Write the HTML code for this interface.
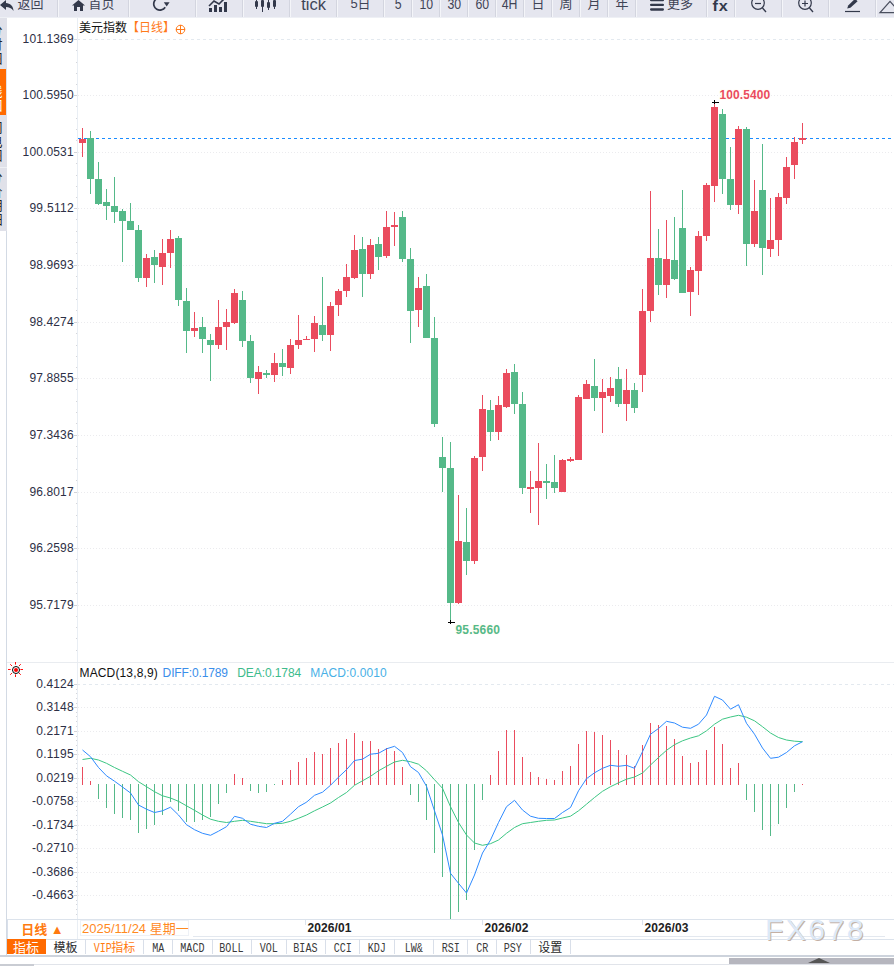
<!DOCTYPE html>
<html lang="zh"><head><meta charset="utf-8"><title>美元指数 日线</title>
<style>
html,body{margin:0;padding:0;}
body{width:894px;height:966px;overflow:hidden;background:#fff;position:relative;font-family:"Liberation Sans","Noto Sans CJK SC",sans-serif;}
.chart{position:absolute;left:0;top:0;}
.toolbar{position:absolute;left:0;top:0;width:894px;height:17px;background:#E5E6EF;overflow:hidden;border-bottom:1px solid #EEF0F5;}
.tbtn{position:absolute;top:0px;height:17px;box-sizing:border-box;border-left:1px solid #F4F5F9;border-right:1px solid #D3D5DF;display:flex;align-items:flex-start;justify-content:center;color:#3F4456;font-size:13px;line-height:14px;white-space:nowrap;}
.tbtn .ic{display:inline-block;margin-right:3px;height:13px;position:relative;top:0px}
.tbtn .ic svg{display:block;overflow:visible}
.tbtn .tx{display:inline-block;position:relative;top:-3px;font-size:13px;transform:translateY(0.4px)}
.tbtn .tx.num{font-size:15px;transform:translateY(0.4px) scaleX(.82);top:-3px}
.tbtn .tx.fx{font-size:15px;font-weight:bold;top:-1px;letter-spacing:1px;color:#33394B;transform:translateY(0.3px) scaleX(1.08)}
.tbtn .tx.tick{font-size:16.5px;top:-4px;transform:translateY(0.5px)}
.side{position:absolute;left:0;top:18px;width:7px;height:213px;background:#E0E1E9;overflow:hidden}
.side .or{position:absolute;left:0;top:51px;width:6px;height:46px;background:#FF6A00}
.side .sp{position:absolute;left:0;top:149px;width:7px;height:1px;background:#EEF0F4}
.side span{position:absolute;left:-10.5px;font-size:13px;line-height:14px;color:#222;width:13px;height:14px;overflow:visible}
.side span.w{color:#fff}
.sline{position:absolute;left:6px;top:231px;width:1px;height:724px;background:#D3DAE4}
.title{position:absolute;left:79px;top:20px;font-size:12px;line-height:16px;color:#111;white-space:nowrap}
.title b{font-weight:normal;color:#FF7A1A}
.period{position:absolute;left:7px;top:920px;width:70px;height:19px;box-sizing:border-box;border-left:1px solid #D8DFEA;color:#FF7A0F;font-weight:bold;font-size:13px;line-height:19px;text-align:center}
.date{position:absolute;left:80px;top:920px;width:109px;height:16px;box-sizing:border-box;border:1px solid #EEF1F6;color:#FF8A1F;font-size:13px;line-height:15px;padding-left:1px;white-space:nowrap}
.tabs{position:absolute;left:0;top:939px;width:894px;height:15px;}
.tab{position:absolute;top:0;height:15px;box-sizing:content-box;border-right:1px solid #D9DFE9;font-size:12px;line-height:18px;text-align:center;color:#2A2A2A;white-space:nowrap;overflow:hidden}
.tab.on{background:#FF6A00;color:#fff;font-size:13px;border-right-color:#FF6A00}
.tab.vip{color:#FF7A0F}
.mono{display:inline-block;font-family:"Liberation Mono",monospace;font-size:12px;transform:scaleX(.84);transform-origin:center;margin:0 -2px;vertical-align:top;color:#3A3A3A;position:relative;top:0.5px}
.tab.vip .mono{margin:0 -2px 0 -2px;color:#FF7A0F}
.bl1{position:absolute;left:0;top:955px;width:894px;height:1.5px;background:#CDD3DC}
.bl2{position:absolute;left:193px;top:936px;width:692px;height:1px;background:#E3E8EF}
.bl3{position:absolute;left:7px;top:939px;width:887px;height:1px;background:#DCE3EC}
.sb{position:absolute;left:729px;top:958px;width:165px;height:6px;background:#B6B6BE}
.sb i{position:absolute;left:79px;top:0;width:0;height:0;border-left:11px solid transparent;border-right:11px solid transparent;border-bottom:5px solid #555}
.bb{position:absolute;left:0;top:964px;width:34px;height:2px;background:#C9CCD3}
.bb2{position:absolute;left:34px;top:964px;width:860px;height:1px;background:#E1E4EA}
.wm{position:absolute;left:765px;top:913px;font-size:30px;line-height:34px;letter-spacing:2.5px;color:#DCE9F8;text-shadow:1px 1px 0 #C4B0A4;white-space:nowrap}
.sun{position:absolute;left:8px;top:662px}
</style></head><body>
<svg class="chart" width="894" height="966" viewBox="0 0 894 966"><g shape-rendering="crispEdges">
<line x1="77" x2="894" y1="39.5" y2="39.5" stroke="#E3E9EF" stroke-dasharray="3 3"/>
<line x1="78" x2="894" y1="95.5" y2="95.5" stroke="#EBEBEE" stroke-dasharray="1 2"/>
<line x1="78" x2="894" y1="152.5" y2="152.5" stroke="#EBEBEE" stroke-dasharray="1 2"/>
<line x1="78" x2="894" y1="208.5" y2="208.5" stroke="#EBEBEE" stroke-dasharray="1 2"/>
<line x1="78" x2="894" y1="265.5" y2="265.5" stroke="#EBEBEE" stroke-dasharray="1 2"/>
<line x1="78" x2="894" y1="322.5" y2="322.5" stroke="#EBEBEE" stroke-dasharray="1 2"/>
<line x1="78" x2="894" y1="378.5" y2="378.5" stroke="#EBEBEE" stroke-dasharray="1 2"/>
<line x1="78" x2="894" y1="435.5" y2="435.5" stroke="#EBEBEE" stroke-dasharray="1 2"/>
<line x1="78" x2="894" y1="492.5" y2="492.5" stroke="#EBEBEE" stroke-dasharray="1 2"/>
<line x1="78" x2="894" y1="548.5" y2="548.5" stroke="#EBEBEE" stroke-dasharray="1 2"/>
<line x1="78" x2="894" y1="605.5" y2="605.5" stroke="#EBEBEE" stroke-dasharray="1 2"/>
<line x1="77.5" x2="77.5" y1="18" y2="939" stroke="#E9EEF4"/>
<line x1="74" x2="77" y1="39.5" y2="39.5" stroke="#D3D3D8"/>
<rect x="76" y="50" width="1" height="1" fill="#D6D6DA"/>
<rect x="76" y="62" width="1" height="1" fill="#D6D6DA"/>
<rect x="76" y="73" width="1" height="1" fill="#D6D6DA"/>
<rect x="76" y="84" width="1" height="1" fill="#D6D6DA"/>
<line x1="74" x2="77" y1="95.5" y2="95.5" stroke="#D3D3D8"/>
<rect x="76" y="106" width="1" height="1" fill="#D6D6DA"/>
<rect x="76" y="118" width="1" height="1" fill="#D6D6DA"/>
<rect x="76" y="129" width="1" height="1" fill="#D6D6DA"/>
<rect x="76" y="140" width="1" height="1" fill="#D6D6DA"/>
<line x1="74" x2="77" y1="152.5" y2="152.5" stroke="#D3D3D8"/>
<rect x="76" y="163" width="1" height="1" fill="#D6D6DA"/>
<rect x="76" y="175" width="1" height="1" fill="#D6D6DA"/>
<rect x="76" y="186" width="1" height="1" fill="#D6D6DA"/>
<rect x="76" y="197" width="1" height="1" fill="#D6D6DA"/>
<line x1="74" x2="77" y1="208.5" y2="208.5" stroke="#D3D3D8"/>
<rect x="76" y="219" width="1" height="1" fill="#D6D6DA"/>
<rect x="76" y="231" width="1" height="1" fill="#D6D6DA"/>
<rect x="76" y="242" width="1" height="1" fill="#D6D6DA"/>
<rect x="76" y="253" width="1" height="1" fill="#D6D6DA"/>
<line x1="74" x2="77" y1="265.5" y2="265.5" stroke="#D3D3D8"/>
<rect x="76" y="276" width="1" height="1" fill="#D6D6DA"/>
<rect x="76" y="288" width="1" height="1" fill="#D6D6DA"/>
<rect x="76" y="299" width="1" height="1" fill="#D6D6DA"/>
<rect x="76" y="310" width="1" height="1" fill="#D6D6DA"/>
<line x1="74" x2="77" y1="322.5" y2="322.5" stroke="#D3D3D8"/>
<rect x="76" y="333" width="1" height="1" fill="#D6D6DA"/>
<rect x="76" y="345" width="1" height="1" fill="#D6D6DA"/>
<rect x="76" y="356" width="1" height="1" fill="#D6D6DA"/>
<rect x="76" y="367" width="1" height="1" fill="#D6D6DA"/>
<line x1="74" x2="77" y1="378.5" y2="378.5" stroke="#D3D3D8"/>
<rect x="76" y="389" width="1" height="1" fill="#D6D6DA"/>
<rect x="76" y="401" width="1" height="1" fill="#D6D6DA"/>
<rect x="76" y="412" width="1" height="1" fill="#D6D6DA"/>
<rect x="76" y="423" width="1" height="1" fill="#D6D6DA"/>
<line x1="74" x2="77" y1="435.5" y2="435.5" stroke="#D3D3D8"/>
<rect x="76" y="446" width="1" height="1" fill="#D6D6DA"/>
<rect x="76" y="458" width="1" height="1" fill="#D6D6DA"/>
<rect x="76" y="469" width="1" height="1" fill="#D6D6DA"/>
<rect x="76" y="480" width="1" height="1" fill="#D6D6DA"/>
<line x1="74" x2="77" y1="492.5" y2="492.5" stroke="#D3D3D8"/>
<rect x="76" y="503" width="1" height="1" fill="#D6D6DA"/>
<rect x="76" y="515" width="1" height="1" fill="#D6D6DA"/>
<rect x="76" y="526" width="1" height="1" fill="#D6D6DA"/>
<rect x="76" y="537" width="1" height="1" fill="#D6D6DA"/>
<line x1="74" x2="77" y1="548.5" y2="548.5" stroke="#D3D3D8"/>
<rect x="76" y="559" width="1" height="1" fill="#D6D6DA"/>
<rect x="76" y="571" width="1" height="1" fill="#D6D6DA"/>
<rect x="76" y="582" width="1" height="1" fill="#D6D6DA"/>
<rect x="76" y="593" width="1" height="1" fill="#D6D6DA"/>
<line x1="74" x2="77" y1="605.5" y2="605.5" stroke="#D3D3D8"/>
<line x1="77" x2="894" y1="684.5" y2="684.5" stroke="#E3E9EF" stroke-dasharray="3 3"/>
<line x1="78" x2="894" y1="707.5" y2="707.5" stroke="#EBEBEE" stroke-dasharray="1 2"/>
<line x1="78" x2="894" y1="731.5" y2="731.5" stroke="#EBEBEE" stroke-dasharray="1 2"/>
<line x1="78" x2="894" y1="754.5" y2="754.5" stroke="#EBEBEE" stroke-dasharray="1 2"/>
<line x1="78" x2="894" y1="778.5" y2="778.5" stroke="#EBEBEE" stroke-dasharray="1 2"/>
<line x1="78" x2="894" y1="801.5" y2="801.5" stroke="#EBEBEE" stroke-dasharray="1 2"/>
<line x1="78" x2="894" y1="825.5" y2="825.5" stroke="#EBEBEE" stroke-dasharray="1 2"/>
<line x1="78" x2="894" y1="848.5" y2="848.5" stroke="#EBEBEE" stroke-dasharray="1 2"/>
<line x1="78" x2="894" y1="872.5" y2="872.5" stroke="#EBEBEE" stroke-dasharray="1 2"/>
<line x1="78" x2="894" y1="895.5" y2="895.5" stroke="#EBEBEE" stroke-dasharray="1 2"/>
<line x1="74" x2="77" y1="684.5" y2="684.5" stroke="#D3D3D8"/>
<rect x="76" y="689" width="1" height="1" fill="#D6D6DA"/>
<rect x="76" y="693" width="1" height="1" fill="#D6D6DA"/>
<rect x="76" y="698" width="1" height="1" fill="#D6D6DA"/>
<rect x="76" y="703" width="1" height="1" fill="#D6D6DA"/>
<line x1="74" x2="77" y1="707.5" y2="707.5" stroke="#D3D3D8"/>
<rect x="76" y="712" width="1" height="1" fill="#D6D6DA"/>
<rect x="76" y="716" width="1" height="1" fill="#D6D6DA"/>
<rect x="76" y="721" width="1" height="1" fill="#D6D6DA"/>
<rect x="76" y="726" width="1" height="1" fill="#D6D6DA"/>
<line x1="74" x2="77" y1="731.5" y2="731.5" stroke="#D3D3D8"/>
<rect x="76" y="736" width="1" height="1" fill="#D6D6DA"/>
<rect x="76" y="740" width="1" height="1" fill="#D6D6DA"/>
<rect x="76" y="745" width="1" height="1" fill="#D6D6DA"/>
<rect x="76" y="750" width="1" height="1" fill="#D6D6DA"/>
<line x1="74" x2="77" y1="754.5" y2="754.5" stroke="#D3D3D8"/>
<rect x="76" y="759" width="1" height="1" fill="#D6D6DA"/>
<rect x="76" y="763" width="1" height="1" fill="#D6D6DA"/>
<rect x="76" y="768" width="1" height="1" fill="#D6D6DA"/>
<rect x="76" y="773" width="1" height="1" fill="#D6D6DA"/>
<line x1="74" x2="77" y1="778.5" y2="778.5" stroke="#D3D3D8"/>
<rect x="76" y="783" width="1" height="1" fill="#D6D6DA"/>
<rect x="76" y="787" width="1" height="1" fill="#D6D6DA"/>
<rect x="76" y="792" width="1" height="1" fill="#D6D6DA"/>
<rect x="76" y="797" width="1" height="1" fill="#D6D6DA"/>
<line x1="74" x2="77" y1="801.5" y2="801.5" stroke="#D3D3D8"/>
<rect x="76" y="806" width="1" height="1" fill="#D6D6DA"/>
<rect x="76" y="810" width="1" height="1" fill="#D6D6DA"/>
<rect x="76" y="815" width="1" height="1" fill="#D6D6DA"/>
<rect x="76" y="820" width="1" height="1" fill="#D6D6DA"/>
<line x1="74" x2="77" y1="825.5" y2="825.5" stroke="#D3D3D8"/>
<rect x="76" y="830" width="1" height="1" fill="#D6D6DA"/>
<rect x="76" y="834" width="1" height="1" fill="#D6D6DA"/>
<rect x="76" y="839" width="1" height="1" fill="#D6D6DA"/>
<rect x="76" y="844" width="1" height="1" fill="#D6D6DA"/>
<line x1="74" x2="77" y1="848.5" y2="848.5" stroke="#D3D3D8"/>
<rect x="76" y="853" width="1" height="1" fill="#D6D6DA"/>
<rect x="76" y="857" width="1" height="1" fill="#D6D6DA"/>
<rect x="76" y="862" width="1" height="1" fill="#D6D6DA"/>
<rect x="76" y="867" width="1" height="1" fill="#D6D6DA"/>
<line x1="74" x2="77" y1="872.5" y2="872.5" stroke="#D3D3D8"/>
<rect x="76" y="877" width="1" height="1" fill="#D6D6DA"/>
<rect x="76" y="881" width="1" height="1" fill="#D6D6DA"/>
<rect x="76" y="886" width="1" height="1" fill="#D6D6DA"/>
<rect x="76" y="891" width="1" height="1" fill="#D6D6DA"/>
<line x1="74" x2="77" y1="895.5" y2="895.5" stroke="#D3D3D8"/>
<rect x="76" y="900" width="1" height="1" fill="#D6D6DA"/>
<rect x="76" y="904" width="1" height="1" fill="#D6D6DA"/>
<rect x="76" y="909" width="1" height="1" fill="#D6D6DA"/>
<rect x="76" y="914" width="1" height="1" fill="#D6D6DA"/>
<line x1="7" x2="894" y1="662.5" y2="662.5" stroke="#E9ECF0"/>
<rect x="76" y="616" width="1" height="1" fill="#D6D6DA"/>
<rect x="76" y="627" width="1" height="1" fill="#D6D6DA"/>
<rect x="76" y="638" width="1" height="1" fill="#D6D6DA"/>
<rect x="76" y="650" width="1" height="1" fill="#D6D6DA"/>
<line x1="7" x2="894" y1="919.5" y2="919.5" stroke="#DCE3EC"/>
<line x1="78" x2="894" y1="138.5" y2="138.5" stroke="#1A8CFF" stroke-dasharray="3 3"/>
<rect x="82" y="128" width="1" height="29" fill="#EA4C5E"/>
<rect x="79" y="139" width="7" height="4" fill="#EA4C5E"/>
<rect x="90" y="131" width="1" height="63" fill="#55B989"/>
<rect x="87" y="138" width="7" height="41" fill="#55B989"/>
<rect x="98" y="162" width="1" height="43" fill="#55B989"/>
<rect x="95" y="179" width="7" height="25" fill="#55B989"/>
<rect x="106" y="189" width="1" height="31" fill="#55B989"/>
<rect x="103" y="202" width="7" height="4" fill="#55B989"/>
<rect x="114" y="177" width="1" height="46" fill="#55B989"/>
<rect x="111" y="206" width="7" height="6" fill="#55B989"/>
<rect x="122" y="209" width="1" height="53" fill="#55B989"/>
<rect x="119" y="211" width="7" height="10" fill="#55B989"/>
<rect x="130" y="203" width="1" height="27" fill="#55B989"/>
<rect x="127" y="221" width="7" height="9" fill="#55B989"/>
<rect x="138" y="225" width="1" height="57" fill="#55B989"/>
<rect x="135" y="230" width="7" height="48" fill="#55B989"/>
<rect x="146" y="254" width="1" height="33" fill="#EA4C5E"/>
<rect x="143" y="258" width="7" height="20" fill="#EA4C5E"/>
<rect x="154" y="250" width="1" height="33" fill="#55B989"/>
<rect x="151" y="257" width="7" height="8" fill="#55B989"/>
<rect x="162" y="239" width="1" height="46" fill="#EA4C5E"/>
<rect x="159" y="253" width="7" height="14" fill="#EA4C5E"/>
<rect x="170" y="230" width="1" height="38" fill="#EA4C5E"/>
<rect x="167" y="239" width="7" height="14" fill="#EA4C5E"/>
<rect x="178" y="236" width="1" height="70" fill="#55B989"/>
<rect x="175" y="238" width="7" height="62" fill="#55B989"/>
<rect x="186" y="288" width="1" height="65" fill="#55B989"/>
<rect x="183" y="301" width="7" height="30" fill="#55B989"/>
<rect x="194" y="312" width="1" height="25" fill="#EA4C5E"/>
<rect x="191" y="328" width="7" height="3" fill="#EA4C5E"/>
<rect x="202" y="317" width="1" height="36" fill="#55B989"/>
<rect x="199" y="327" width="7" height="12" fill="#55B989"/>
<rect x="210" y="334" width="1" height="47" fill="#55B989"/>
<rect x="207" y="340" width="7" height="5" fill="#55B989"/>
<rect x="218" y="300" width="1" height="49" fill="#EA4C5E"/>
<rect x="215" y="327" width="7" height="18" fill="#EA4C5E"/>
<rect x="226" y="309" width="1" height="41" fill="#EA4C5E"/>
<rect x="223" y="322" width="7" height="5" fill="#EA4C5E"/>
<rect x="234" y="289" width="1" height="35" fill="#EA4C5E"/>
<rect x="231" y="293" width="7" height="30" fill="#EA4C5E"/>
<rect x="242" y="291" width="1" height="56" fill="#55B989"/>
<rect x="239" y="300" width="7" height="41" fill="#55B989"/>
<rect x="250" y="335" width="1" height="48" fill="#55B989"/>
<rect x="247" y="341" width="7" height="37" fill="#55B989"/>
<rect x="258" y="366" width="1" height="28" fill="#EA4C5E"/>
<rect x="255" y="372" width="7" height="7" fill="#EA4C5E"/>
<rect x="266" y="370" width="1" height="8" fill="#55B989"/>
<rect x="263" y="373" width="7" height="2" fill="#55B989"/>
<rect x="274" y="353" width="1" height="29" fill="#EA4C5E"/>
<rect x="271" y="363" width="7" height="12" fill="#EA4C5E"/>
<rect x="282" y="349" width="1" height="27" fill="#55B989"/>
<rect x="279" y="363" width="7" height="4" fill="#55B989"/>
<rect x="290" y="339" width="1" height="35" fill="#EA4C5E"/>
<rect x="287" y="345" width="7" height="23" fill="#EA4C5E"/>
<rect x="298" y="315" width="1" height="34" fill="#EA4C5E"/>
<rect x="295" y="340" width="7" height="5" fill="#EA4C5E"/>
<rect x="306" y="336" width="1" height="4" fill="#EA4C5E"/>
<rect x="303" y="339" width="7" height="1" fill="#EA4C5E"/>
<rect x="314" y="316" width="1" height="36" fill="#EA4C5E"/>
<rect x="311" y="323" width="7" height="16" fill="#EA4C5E"/>
<rect x="322" y="277" width="1" height="64" fill="#55B989"/>
<rect x="319" y="325" width="7" height="10" fill="#55B989"/>
<rect x="330" y="302" width="1" height="49" fill="#EA4C5E"/>
<rect x="327" y="306" width="7" height="29" fill="#EA4C5E"/>
<rect x="338" y="289" width="1" height="27" fill="#EA4C5E"/>
<rect x="335" y="291" width="7" height="14" fill="#EA4C5E"/>
<rect x="346" y="264" width="1" height="33" fill="#EA4C5E"/>
<rect x="343" y="277" width="7" height="14" fill="#EA4C5E"/>
<rect x="354" y="235" width="1" height="44" fill="#EA4C5E"/>
<rect x="351" y="250" width="7" height="28" fill="#EA4C5E"/>
<rect x="362" y="237" width="1" height="60" fill="#55B989"/>
<rect x="359" y="249" width="7" height="25" fill="#55B989"/>
<rect x="370" y="239" width="1" height="40" fill="#EA4C5E"/>
<rect x="367" y="245" width="7" height="29" fill="#EA4C5E"/>
<rect x="378" y="237" width="1" height="33" fill="#55B989"/>
<rect x="375" y="244" width="7" height="13" fill="#55B989"/>
<rect x="386" y="211" width="1" height="47" fill="#EA4C5E"/>
<rect x="383" y="227" width="7" height="29" fill="#EA4C5E"/>
<rect x="394" y="212" width="1" height="34" fill="#EA4C5E"/>
<rect x="391" y="225" width="7" height="2" fill="#EA4C5E"/>
<rect x="402" y="211" width="1" height="51" fill="#55B989"/>
<rect x="399" y="217" width="7" height="42" fill="#55B989"/>
<rect x="410" y="248" width="1" height="95" fill="#55B989"/>
<rect x="407" y="259" width="7" height="52" fill="#55B989"/>
<rect x="418" y="277" width="1" height="50" fill="#EA4C5E"/>
<rect x="415" y="288" width="7" height="22" fill="#EA4C5E"/>
<rect x="426" y="274" width="1" height="64" fill="#55B989"/>
<rect x="423" y="286" width="7" height="52" fill="#55B989"/>
<rect x="434" y="317" width="1" height="110" fill="#55B989"/>
<rect x="431" y="338" width="7" height="86" fill="#55B989"/>
<rect x="442" y="437" width="1" height="55" fill="#55B989"/>
<rect x="439" y="457" width="7" height="11" fill="#55B989"/>
<rect x="450" y="442" width="1" height="180" fill="#55B989"/>
<rect x="447" y="468" width="7" height="135" fill="#55B989"/>
<rect x="458" y="495" width="1" height="109" fill="#EA4C5E"/>
<rect x="455" y="541" width="7" height="62" fill="#EA4C5E"/>
<rect x="466" y="508" width="1" height="67" fill="#55B989"/>
<rect x="463" y="542" width="7" height="19" fill="#55B989"/>
<rect x="474" y="456" width="1" height="108" fill="#EA4C5E"/>
<rect x="471" y="458" width="7" height="103" fill="#EA4C5E"/>
<rect x="482" y="395" width="1" height="76" fill="#EA4C5E"/>
<rect x="479" y="409" width="7" height="48" fill="#EA4C5E"/>
<rect x="490" y="400" width="1" height="41" fill="#55B989"/>
<rect x="487" y="410" width="7" height="22" fill="#55B989"/>
<rect x="498" y="396" width="1" height="44" fill="#EA4C5E"/>
<rect x="495" y="405" width="7" height="27" fill="#EA4C5E"/>
<rect x="506" y="369" width="1" height="39" fill="#EA4C5E"/>
<rect x="503" y="373" width="7" height="34" fill="#EA4C5E"/>
<rect x="514" y="364" width="1" height="50" fill="#55B989"/>
<rect x="511" y="372" width="7" height="32" fill="#55B989"/>
<rect x="522" y="392" width="1" height="102" fill="#55B989"/>
<rect x="519" y="404" width="7" height="84" fill="#55B989"/>
<rect x="530" y="471" width="1" height="42" fill="#EA4C5E"/>
<rect x="527" y="487" width="7" height="2" fill="#EA4C5E"/>
<rect x="538" y="443" width="1" height="82" fill="#EA4C5E"/>
<rect x="535" y="481" width="7" height="7" fill="#EA4C5E"/>
<rect x="546" y="464" width="1" height="35" fill="#55B989"/>
<rect x="543" y="481" width="7" height="2" fill="#55B989"/>
<rect x="554" y="455" width="1" height="38" fill="#55B989"/>
<rect x="551" y="482" width="7" height="6" fill="#55B989"/>
<rect x="562" y="459" width="1" height="33" fill="#EA4C5E"/>
<rect x="559" y="460" width="7" height="32" fill="#EA4C5E"/>
<rect x="570" y="457" width="1" height="5" fill="#EA4C5E"/>
<rect x="567" y="459" width="7" height="2" fill="#EA4C5E"/>
<rect x="578" y="395" width="1" height="65" fill="#EA4C5E"/>
<rect x="575" y="397" width="7" height="63" fill="#EA4C5E"/>
<rect x="586" y="380" width="1" height="19" fill="#EA4C5E"/>
<rect x="583" y="384" width="7" height="15" fill="#EA4C5E"/>
<rect x="594" y="359" width="1" height="52" fill="#55B989"/>
<rect x="591" y="386" width="7" height="12" fill="#55B989"/>
<rect x="602" y="379" width="1" height="54" fill="#EA4C5E"/>
<rect x="599" y="392" width="7" height="6" fill="#EA4C5E"/>
<rect x="610" y="377" width="1" height="25" fill="#EA4C5E"/>
<rect x="607" y="388" width="7" height="8" fill="#EA4C5E"/>
<rect x="618" y="367" width="1" height="40" fill="#55B989"/>
<rect x="615" y="379" width="7" height="25" fill="#55B989"/>
<rect x="626" y="369" width="1" height="52" fill="#EA4C5E"/>
<rect x="623" y="390" width="7" height="14" fill="#EA4C5E"/>
<rect x="634" y="383" width="1" height="30" fill="#55B989"/>
<rect x="631" y="390" width="7" height="18" fill="#55B989"/>
<rect x="642" y="289" width="1" height="103" fill="#EA4C5E"/>
<rect x="639" y="311" width="7" height="64" fill="#EA4C5E"/>
<rect x="650" y="191" width="1" height="131" fill="#EA4C5E"/>
<rect x="647" y="258" width="7" height="53" fill="#EA4C5E"/>
<rect x="658" y="229" width="1" height="66" fill="#55B989"/>
<rect x="655" y="258" width="7" height="27" fill="#55B989"/>
<rect x="666" y="220" width="1" height="78" fill="#EA4C5E"/>
<rect x="663" y="259" width="7" height="26" fill="#EA4C5E"/>
<rect x="674" y="217" width="1" height="63" fill="#55B989"/>
<rect x="671" y="260" width="7" height="19" fill="#55B989"/>
<rect x="682" y="190" width="1" height="103" fill="#55B989"/>
<rect x="679" y="228" width="7" height="65" fill="#55B989"/>
<rect x="690" y="267" width="1" height="49" fill="#EA4C5E"/>
<rect x="687" y="270" width="7" height="22" fill="#EA4C5E"/>
<rect x="698" y="231" width="1" height="64" fill="#EA4C5E"/>
<rect x="695" y="236" width="7" height="35" fill="#EA4C5E"/>
<rect x="706" y="183" width="1" height="58" fill="#EA4C5E"/>
<rect x="703" y="185" width="7" height="51" fill="#EA4C5E"/>
<rect x="714" y="102" width="1" height="100" fill="#EA4C5E"/>
<rect x="711" y="107" width="7" height="79" fill="#EA4C5E"/>
<rect x="722" y="109" width="1" height="85" fill="#55B989"/>
<rect x="719" y="114" width="7" height="65" fill="#55B989"/>
<rect x="730" y="147" width="1" height="63" fill="#55B989"/>
<rect x="727" y="179" width="7" height="26" fill="#55B989"/>
<rect x="738" y="126" width="1" height="88" fill="#EA4C5E"/>
<rect x="735" y="129" width="7" height="76" fill="#EA4C5E"/>
<rect x="746" y="127" width="1" height="139" fill="#55B989"/>
<rect x="743" y="129" width="7" height="115" fill="#55B989"/>
<rect x="754" y="180" width="1" height="67" fill="#EA4C5E"/>
<rect x="751" y="211" width="7" height="33" fill="#EA4C5E"/>
<rect x="762" y="144" width="1" height="131" fill="#55B989"/>
<rect x="759" y="190" width="7" height="58" fill="#55B989"/>
<rect x="770" y="198" width="1" height="59" fill="#EA4C5E"/>
<rect x="767" y="240" width="7" height="9" fill="#EA4C5E"/>
<rect x="778" y="193" width="1" height="63" fill="#EA4C5E"/>
<rect x="775" y="197" width="7" height="43" fill="#EA4C5E"/>
<rect x="786" y="157" width="1" height="47" fill="#EA4C5E"/>
<rect x="783" y="167" width="7" height="31" fill="#EA4C5E"/>
<rect x="794" y="137" width="1" height="42" fill="#EA4C5E"/>
<rect x="791" y="142" width="7" height="23" fill="#EA4C5E"/>
<rect x="802" y="123" width="1" height="21" fill="#EA4C5E"/>
<rect x="799" y="138" width="7" height="2" fill="#EA4C5E"/>
<rect x="82" y="767" width="1" height="18" fill="#EA4C5E"/>
<rect x="90" y="781" width="1" height="4" fill="#EA4C5E"/>
<rect x="98" y="784" width="1" height="15" fill="#55B989"/>
<rect x="106" y="784" width="1" height="24" fill="#55B989"/>
<rect x="114" y="784" width="1" height="30" fill="#55B989"/>
<rect x="122" y="784" width="1" height="34" fill="#55B989"/>
<rect x="130" y="784" width="1" height="36" fill="#55B989"/>
<rect x="138" y="784" width="1" height="49" fill="#55B989"/>
<rect x="146" y="784" width="1" height="45" fill="#55B989"/>
<rect x="154" y="784" width="1" height="41" fill="#55B989"/>
<rect x="162" y="784" width="1" height="31" fill="#55B989"/>
<rect x="170" y="784" width="1" height="18" fill="#55B989"/>
<rect x="178" y="784" width="1" height="27" fill="#55B989"/>
<rect x="186" y="784" width="1" height="38" fill="#55B989"/>
<rect x="194" y="784" width="1" height="38" fill="#55B989"/>
<rect x="202" y="784" width="1" height="36" fill="#55B989"/>
<rect x="210" y="784" width="1" height="33" fill="#55B989"/>
<rect x="218" y="784" width="1" height="20" fill="#55B989"/>
<rect x="226" y="784" width="1" height="9" fill="#55B989"/>
<rect x="234" y="774" width="1" height="11" fill="#EA4C5E"/>
<rect x="242" y="778" width="1" height="7" fill="#EA4C5E"/>
<rect x="250" y="784" width="1" height="7" fill="#55B989"/>
<rect x="258" y="784" width="1" height="9" fill="#55B989"/>
<rect x="266" y="784" width="1" height="8" fill="#55B989"/>
<rect x="274" y="784" width="1" height="1" fill="#55B989"/>
<rect x="282" y="780" width="1" height="5" fill="#EA4C5E"/>
<rect x="290" y="770" width="1" height="15" fill="#EA4C5E"/>
<rect x="298" y="762" width="1" height="23" fill="#EA4C5E"/>
<rect x="306" y="758" width="1" height="27" fill="#EA4C5E"/>
<rect x="314" y="752" width="1" height="33" fill="#EA4C5E"/>
<rect x="322" y="754" width="1" height="31" fill="#EA4C5E"/>
<rect x="330" y="748" width="1" height="37" fill="#EA4C5E"/>
<rect x="338" y="743" width="1" height="42" fill="#EA4C5E"/>
<rect x="346" y="739" width="1" height="46" fill="#EA4C5E"/>
<rect x="354" y="733" width="1" height="52" fill="#EA4C5E"/>
<rect x="362" y="741" width="1" height="44" fill="#EA4C5E"/>
<rect x="370" y="741" width="1" height="44" fill="#EA4C5E"/>
<rect x="378" y="749" width="1" height="36" fill="#EA4C5E"/>
<rect x="386" y="748" width="1" height="37" fill="#EA4C5E"/>
<rect x="394" y="751" width="1" height="34" fill="#EA4C5E"/>
<rect x="402" y="767" width="1" height="18" fill="#EA4C5E"/>
<rect x="410" y="784" width="1" height="11" fill="#55B989"/>
<rect x="418" y="784" width="1" height="18" fill="#55B989"/>
<rect x="426" y="784" width="1" height="36" fill="#55B989"/>
<rect x="434" y="784" width="1" height="69" fill="#55B989"/>
<rect x="442" y="784" width="1" height="93" fill="#55B989"/>
<rect x="450" y="784" width="1" height="135" fill="#55B989"/>
<rect x="458" y="784" width="1" height="128" fill="#55B989"/>
<rect x="466" y="784" width="1" height="116" fill="#55B989"/>
<rect x="474" y="784" width="1" height="66" fill="#55B989"/>
<rect x="482" y="784" width="1" height="16" fill="#55B989"/>
<rect x="490" y="775" width="1" height="10" fill="#EA4C5E"/>
<rect x="498" y="751" width="1" height="34" fill="#EA4C5E"/>
<rect x="506" y="730" width="1" height="55" fill="#EA4C5E"/>
<rect x="514" y="730" width="1" height="55" fill="#EA4C5E"/>
<rect x="522" y="757" width="1" height="28" fill="#EA4C5E"/>
<rect x="530" y="772" width="1" height="13" fill="#EA4C5E"/>
<rect x="538" y="777" width="1" height="8" fill="#EA4C5E"/>
<rect x="546" y="779" width="1" height="6" fill="#EA4C5E"/>
<rect x="554" y="780" width="1" height="5" fill="#EA4C5E"/>
<rect x="562" y="771" width="1" height="14" fill="#EA4C5E"/>
<rect x="570" y="766" width="1" height="19" fill="#EA4C5E"/>
<rect x="578" y="744" width="1" height="41" fill="#EA4C5E"/>
<rect x="586" y="731" width="1" height="54" fill="#EA4C5E"/>
<rect x="594" y="732" width="1" height="53" fill="#EA4C5E"/>
<rect x="602" y="735" width="1" height="50" fill="#EA4C5E"/>
<rect x="610" y="740" width="1" height="45" fill="#EA4C5E"/>
<rect x="618" y="750" width="1" height="35" fill="#EA4C5E"/>
<rect x="626" y="755" width="1" height="30" fill="#EA4C5E"/>
<rect x="634" y="766" width="1" height="19" fill="#EA4C5E"/>
<rect x="642" y="745" width="1" height="40" fill="#EA4C5E"/>
<rect x="650" y="723" width="1" height="62" fill="#EA4C5E"/>
<rect x="658" y="725" width="1" height="60" fill="#EA4C5E"/>
<rect x="666" y="726" width="1" height="59" fill="#EA4C5E"/>
<rect x="674" y="739" width="1" height="46" fill="#EA4C5E"/>
<rect x="682" y="756" width="1" height="29" fill="#EA4C5E"/>
<rect x="690" y="763" width="1" height="22" fill="#EA4C5E"/>
<rect x="698" y="762" width="1" height="23" fill="#EA4C5E"/>
<rect x="706" y="750" width="1" height="35" fill="#EA4C5E"/>
<rect x="714" y="727" width="1" height="58" fill="#EA4C5E"/>
<rect x="722" y="744" width="1" height="41" fill="#EA4C5E"/>
<rect x="730" y="768" width="1" height="17" fill="#EA4C5E"/>
<rect x="738" y="763" width="1" height="22" fill="#EA4C5E"/>
<rect x="746" y="784" width="1" height="16" fill="#55B989"/>
<rect x="754" y="784" width="1" height="28" fill="#55B989"/>
<rect x="762" y="784" width="1" height="46" fill="#55B989"/>
<rect x="770" y="784" width="1" height="52" fill="#55B989"/>
<rect x="778" y="784" width="1" height="40" fill="#55B989"/>
<rect x="786" y="784" width="1" height="24" fill="#55B989"/>
<rect x="794" y="784" width="1" height="8" fill="#55B989"/>
<rect x="802" y="784" width="1" height="1" fill="#EA4C5E"/>
</g>
<path d="M82.5,759.5 L90.5,758.3 L98.5,760.0 L106.5,763.3 L114.5,767.5 L122.5,771.3 L130.5,775.0 L138.5,781.7 L146.5,786.7 L154.5,791.7 L162.5,795.8 L170.5,798.0 L178.5,801.3 L186.5,805.8 L194.5,810.3 L202.5,815.0 L210.5,819.2 L218.5,821.3 L226.5,822.5 L234.5,821.3 L242.5,820.3 L250.5,821.3 L258.5,822.5 L266.5,823.7 L274.5,823.7 L282.5,823.3 L290.5,821.3 L298.5,818.3 L306.5,815.0 L314.5,810.8 L322.5,807.0 L330.5,803.0 L338.5,797.5 L346.5,792.5 L354.5,785.3 L362.5,780.8 L370.5,776.3 L378.5,770.8 L386.5,766.3 L394.5,762.0 L402.5,760.3 L410.5,761.7 L418.5,764.2 L426.5,770.8 L434.5,779.7 L442.5,788.3 L450.5,806.7 L458.5,822.5 L466.5,835.0 L474.5,843.0 L482.5,845.3 L490.5,843.7 L498.5,840.0 L506.5,833.3 L514.5,827.5 L522.5,823.7 L530.5,822.5 L538.5,821.3 L546.5,820.3 L554.5,820.0 L562.5,818.0 L570.5,816.2 L578.5,810.8 L586.5,804.2 L594.5,797.5 L602.5,791.3 L610.5,786.7 L618.5,782.8 L626.5,779.2 L634.5,777.0 L642.5,773.0 L650.5,765.0 L658.5,757.5 L666.5,750.3 L674.5,744.7 L682.5,740.8 L690.5,738.0 L698.5,735.8 L706.5,730.8 L714.5,724.2 L722.5,719.2 L730.5,717.0 L738.5,715.3 L746.5,717.2 L754.5,720.8 L762.5,726.7 L770.5,733.0 L778.5,737.5 L786.5,740.0 L794.5,741.2 L802.5,741.7" fill="none" stroke="#3CC683" stroke-width="1" stroke-linejoin="round"/>
<path d="M82.5,750.0 L90.5,756.7 L98.5,767.5 L106.5,775.8 L114.5,781.2 L122.5,787.0 L130.5,793.0 L138.5,805.0 L146.5,809.2 L154.5,812.5 L162.5,810.8 L170.5,807.2 L178.5,815.0 L186.5,824.7 L194.5,829.7 L202.5,833.3 L210.5,835.3 L218.5,831.2 L226.5,826.7 L234.5,816.3 L242.5,818.3 L250.5,824.2 L258.5,826.3 L266.5,827.5 L274.5,823.3 L282.5,821.3 L290.5,814.2 L298.5,806.7 L306.5,802.2 L314.5,795.3 L322.5,792.2 L330.5,785.3 L338.5,777.2 L346.5,769.7 L354.5,760.5 L362.5,759.2 L370.5,754.2 L378.5,753.3 L386.5,748.8 L394.5,746.3 L402.5,752.5 L410.5,766.7 L418.5,772.5 L426.5,786.3 L434.5,810.8 L442.5,835.0 L450.5,873.3 L458.5,883.3 L466.5,893.0 L474.5,875.0 L482.5,853.0 L490.5,840.0 L498.5,822.5 L506.5,806.7 L514.5,800.3 L522.5,810.0 L530.5,816.2 L538.5,818.3 L546.5,818.5 L554.5,818.5 L562.5,812.5 L570.5,807.5 L578.5,790.8 L586.5,778.7 L594.5,772.8 L602.5,768.3 L610.5,765.3 L618.5,766.3 L626.5,765.3 L634.5,768.3 L642.5,751.7 L650.5,734.2 L658.5,728.5 L666.5,721.3 L674.5,723.0 L682.5,727.2 L690.5,728.3 L698.5,724.2 L706.5,715.0 L714.5,696.3 L722.5,700.0 L730.5,709.2 L738.5,704.7 L746.5,723.3 L754.5,734.2 L762.5,748.0 L770.5,758.3 L778.5,757.2 L786.5,752.5 L794.5,745.8 L802.5,741.7" fill="none" stroke="#2F8BFF" stroke-width="1" stroke-linejoin="round"/>
<g shape-rendering="crispEdges"><rect x="712" y="102" width="7" height="1" fill="#000"/><rect x="714" y="100" width="1" height="4" fill="#000"/><rect x="448" y="622" width="7" height="1" fill="#000"/><rect x="450" y="620" width="1" height="4" fill="#000"/></g>
<text x="73.6" y="43" text-anchor="end" font-size="12" fill="#2D2F45" textLength="51.0" font-family="Liberation Sans, sans-serif">101.1369</text>
<text x="73.6" y="99" text-anchor="end" font-size="12" fill="#2D2F45" textLength="51.0" font-family="Liberation Sans, sans-serif">100.5950</text>
<text x="73.6" y="156" text-anchor="end" font-size="12" fill="#2D2F45" textLength="51.0" font-family="Liberation Sans, sans-serif">100.0531</text>
<text x="73.6" y="212" text-anchor="end" font-size="12" fill="#2D2F45" textLength="44.2" font-family="Liberation Sans, sans-serif">99.5112</text>
<text x="73.6" y="269" text-anchor="end" font-size="12" fill="#2D2F45" textLength="44.2" font-family="Liberation Sans, sans-serif">98.9693</text>
<text x="73.6" y="326" text-anchor="end" font-size="12" fill="#2D2F45" textLength="44.2" font-family="Liberation Sans, sans-serif">98.4274</text>
<text x="73.6" y="382" text-anchor="end" font-size="12" fill="#2D2F45" textLength="44.2" font-family="Liberation Sans, sans-serif">97.8855</text>
<text x="73.6" y="439" text-anchor="end" font-size="12" fill="#2D2F45" textLength="44.2" font-family="Liberation Sans, sans-serif">97.3436</text>
<text x="73.6" y="496" text-anchor="end" font-size="12" fill="#2D2F45" textLength="44.2" font-family="Liberation Sans, sans-serif">96.8017</text>
<text x="73.6" y="552" text-anchor="end" font-size="12" fill="#2D2F45" textLength="44.2" font-family="Liberation Sans, sans-serif">96.2598</text>
<text x="73.6" y="609" text-anchor="end" font-size="12" fill="#2D2F45" textLength="44.2" font-family="Liberation Sans, sans-serif">95.7179</text>
<text x="73.6" y="688" text-anchor="end" font-size="12" fill="#2D2F45" textLength="37.4" font-family="Liberation Sans, sans-serif">0.4124</text>
<text x="73.6" y="711" text-anchor="end" font-size="12" fill="#2D2F45" textLength="37.4" font-family="Liberation Sans, sans-serif">0.3148</text>
<text x="73.6" y="735" text-anchor="end" font-size="12" fill="#2D2F45" textLength="37.4" font-family="Liberation Sans, sans-serif">0.2171</text>
<text x="73.6" y="758" text-anchor="end" font-size="12" fill="#2D2F45" textLength="37.4" font-family="Liberation Sans, sans-serif">0.1195</text>
<text x="73.6" y="782" text-anchor="end" font-size="12" fill="#2D2F45" textLength="37.4" font-family="Liberation Sans, sans-serif">0.0219</text>
<text x="73.6" y="805" text-anchor="end" font-size="12" fill="#2D2F45" textLength="41.6" font-family="Liberation Sans, sans-serif">-0.0758</text>
<text x="73.6" y="829" text-anchor="end" font-size="12" fill="#2D2F45" textLength="41.6" font-family="Liberation Sans, sans-serif">-0.1734</text>
<text x="73.6" y="852" text-anchor="end" font-size="12" fill="#2D2F45" textLength="41.6" font-family="Liberation Sans, sans-serif">-0.2710</text>
<text x="73.6" y="876" text-anchor="end" font-size="12" fill="#2D2F45" textLength="41.6" font-family="Liberation Sans, sans-serif">-0.3686</text>
<text x="73.6" y="899" text-anchor="end" font-size="12" fill="#2D2F45" textLength="41.6" font-family="Liberation Sans, sans-serif">-0.4663</text>
<text x="719.6" y="99" font-size="12" font-weight="bold" fill="#EA4C5E" stroke="#FFFDF5" stroke-width="1.6" paint-order="stroke" textLength="50.6" font-family="Liberation Sans, sans-serif">100.5400</text>
<text x="455.4" y="634" font-size="12" font-weight="bold" fill="#55B989" stroke="#FFFDF5" stroke-width="1.6" paint-order="stroke" textLength="44.6" font-family="Liberation Sans, sans-serif">95.5660</text>
<text y="677" font-size="12" font-family="Liberation Sans, sans-serif"><tspan x="79.5" textLength="78.3" fill="#111">MACD(13,8,9)</tspan><tspan x="162.6" textLength="65.4" fill="#3A8EEA">DIFF:0.1789</tspan><tspan x="237.2" textLength="64" fill="#3DBB8C">DEA:0.1784</tspan><tspan x="310.3" textLength="76.4" fill="#48B0E6">MACD:0.0010</tspan></text>
<rect x="305" y="920" width="1" height="5" fill="#DCE3EC"/>
<text x="307.5" y="932" font-size="12" font-weight="bold" fill="#222" textLength="44" font-family="Liberation Sans, sans-serif">2026/01</text>
<rect x="482" y="920" width="1" height="5" fill="#DCE3EC"/>
<text x="484.5" y="932" font-size="12" font-weight="bold" fill="#222" textLength="44" font-family="Liberation Sans, sans-serif">2026/02</text>
<rect x="642" y="920" width="1" height="5" fill="#DCE3EC"/>
<text x="644.5" y="932" font-size="12" font-weight="bold" fill="#222" textLength="44" font-family="Liberation Sans, sans-serif">2026/03</text></svg>
<div class="toolbar">
<div class="tbtn" style="left:-14px;width:72px"><span class="ic ic-back"><svg width="14" height="12" viewBox="0 0 14 12"><path d="M6 0 L0 5 L6 10 V7 C9 7 11.5 8 13.5 11 C13.5 6 10 3.2 6 3 Z" fill="#33394B"/></svg></span><span class="tx">返回</span></div>
<div class="tbtn" style="left:58px;width:71px"><span class="ic ic-home"><svg width="13" height="11" viewBox="0 0 13 11"><path d="M6.5 0 L0 5.5 H2 V11 H5 V7 H8 V11 H11 V5.5 H13 Z" fill="#33394B"/></svg></span><span class="tx">首页</span></div>
<div class="tbtn" style="left:129px;width:67px"><span class="ic ic-refresh"><svg width="18" height="12" viewBox="0 0 18 12"><path d="M13.2 7.2 A6.2 6.2 0 1 1 11 -1.5" stroke="#33394B" stroke-width="1.7" fill="none"/><path d="M11.8 2.2 L17.6 2.2 L14.7 6.6 Z" fill="#33394B"/></svg></span></div>
<div class="tbtn" style="left:196px;width:47px"><span class="ic ic-chart"><svg width="20" height="12" viewBox="0 0 20 12"><path d="M1 6 L6 1 L11 4 L18 -3" stroke="#33394B" stroke-width="1.6" fill="none"/><rect x="1" y="8" width="3" height="4" fill="#33394B"/><rect x="6" y="5" width="3" height="7" fill="#33394B"/><rect x="11" y="7" width="3" height="5" fill="#33394B"/><rect x="16" y="2" width="3" height="10" fill="#33394B"/></svg></span></div>
<div class="tbtn" style="left:243px;width:47px"><span class="ic ic-candle"><svg width="21" height="12" viewBox="0 0 21 12"><g fill="#33394B"><rect x="0" y="1" width="3" height="6" rx="1"/><rect x="1" y="-2" width="1" height="11"/><rect x="6" y="0" width="3" height="7" rx="1"/><rect x="7" y="-2" width="1" height="14"/><rect x="12" y="2" width="3" height="6" rx="1"/><rect x="13" y="-2" width="1" height="12"/><rect x="18" y="0" width="3" height="7" rx="1"/><rect x="19" y="-2" width="1" height="11"/></g></svg></span></div>
<div class="tbtn" style="left:290px;width:47px"><span class="tx tick">tick</span></div>
<div class="tbtn" style="left:337px;width:47px"><span class="tx">5日</span></div>
<div class="tbtn" style="left:384px;width:28px"><span class="tx num">5</span></div>
<div class="tbtn" style="left:412px;width:28px"><span class="tx num">10</span></div>
<div class="tbtn" style="left:440px;width:28px"><span class="tx num">30</span></div>
<div class="tbtn" style="left:468px;width:28px"><span class="tx num">60</span></div>
<div class="tbtn" style="left:496px;width:28px"><span class="tx num">4H</span></div>
<div class="tbtn" style="left:524px;width:28px"><span class="tx">日</span></div>
<div class="tbtn" style="left:552px;width:28px"><span class="tx">周</span></div>
<div class="tbtn" style="left:580px;width:28px"><span class="tx">月</span></div>
<div class="tbtn" style="left:608px;width:28px"><span class="tx">年</span></div>
<div class="tbtn" style="left:636px;width:71px"><span class="ic ic-menu"><svg width="14" height="11" viewBox="0 0 14 11"><g fill="#33394B"><rect x="0" y="-1" width="14" height="2.3" rx="1.1"/><rect x="0" y="3.7" width="14" height="2.3" rx="1.1"/><rect x="0" y="8.3" width="14" height="2.4" rx="1.1"/></g></svg></span><span class="tx">更多</span></div>
<div class="tbtn" style="left:707px;width:28px"><span class="tx fx">fx</span></div>
<div class="tbtn" style="left:735px;width:47px"><span class="ic ic-zout"><svg width="16" height="13" viewBox="-2 0 16 13"><circle cx="7" cy="3" r="6.3" stroke="#33394B" stroke-width="1.2" fill="none"/><path d="M4 3.5 H10" stroke="#33394B" stroke-width="1.2"/><path d="M11.5 8 L15 12" stroke="#33394B" stroke-width="1.4"/></svg></span></div>
<div class="tbtn" style="left:782px;width:47px"><span class="ic ic-zin"><svg width="16" height="13" viewBox="-2 0 16 13"><circle cx="7" cy="3" r="6.3" stroke="#33394B" stroke-width="1.2" fill="none"/><path d="M4 3.5 H10 M7 0.5 V6.5" stroke="#33394B" stroke-width="1.2"/><path d="M11.5 8 L15 12" stroke="#33394B" stroke-width="1.4"/></svg></span></div>
<div class="tbtn" style="left:829px;width:47px"><span class="ic ic-pen"><svg width="16" height="13" viewBox="-2 0 16 13"><path d="M2.2 8.6 L3.2 5.6 L10 -1.2 L12.6 1.2 L5.4 7.8 Z" fill="#33394B"/><path d="M0 11.5 H15" stroke="#33394B" stroke-width="1.2"/></svg></span></div>
<div class="tbtn" style="left:876px;width:31px"><span class="ic ic-tri"><svg width="22" height="14" viewBox="0 0 22 14"><path d="M1 12.6 L11 1.4 L21 12.6 Z" stroke="#4A4F5E" stroke-width="1.3" fill="none"/></svg></span></div>
</div>
<div class="side"><div class="or"></div><div class="sp"></div><span class="" style="top:6px">分</span><span class="" style="top:20px">时</span><span class="" style="top:34px">图</span><span class="w" style="top:53px">K</span><span class="w" style="top:67px">线</span><span class="w" style="top:81px">图</span><span class="" style="top:103px">闪</span><span class="" style="top:117px">电</span><span class="" style="top:131px">图</span><span class="" style="top:153px">分</span><span class="" style="top:167px">价</span><span class="" style="top:181px">明</span><span class="" style="top:195px">细</span></div><div class="sline"></div>
<div class="title">美元指数<b>【日线】</b><svg width="11" height="11" viewBox="0 0 11 11" style="vertical-align:-3px;margin-left:-0.5px"><circle cx="5.5" cy="5.5" r="4.3" fill="none" stroke="#FF7A1A"/><path d="M1 5.5H10M5.5 1V10" stroke="#FF7A1A" stroke-width="1"/></svg></div>
<svg class="sun" width="16" height="16" viewBox="0 0 16 16"><path d="M12.90 7.50L14.50 7.50M11.32 11.32L12.45 12.45M7.50 12.90L7.50 14.50M3.68 11.32L2.55 12.45M2.10 7.50L0.50 7.50M3.68 3.68L2.55 2.55M7.50 2.10L7.50 0.50M11.32 3.68L12.45 2.55" stroke="#FF1010" stroke-width="1" stroke-linecap="square"/><circle cx="8" cy="8" r="3.5" fill="#fff" stroke="#000" stroke-width="1"/><circle cx="8" cy="8" r="2" fill="#FF0000"/></svg>
<div class="bl2"></div><div class="bl3"></div>
<div class="period">日线 ▲</div>
<div class="date">2025/11/24 星期一</div>
<div class="wm">FX678</div>
<div class="tabs">
<div class="tab on" style="left:7px;width:38px">指标</div>
<div class="tab " style="left:46px;width:39px">模板</div>
<div class="tab vip" style="left:86px;width:57px"><span class="mono">VIP</span>指标</div>
<div class="tab m" style="left:144px;width:27.5px"><span class="mono">MA</span></div>
<div class="tab m" style="left:172.5px;width:39.0px"><span class="mono">MACD</span></div>
<div class="tab m" style="left:212.5px;width:38.5px"><span class="mono">BOLL</span></div>
<div class="tab m" style="left:252px;width:33.5px"><span class="mono">VOL</span></div>
<div class="tab m" style="left:286.5px;width:38.5px"><span class="mono">BIAS</span></div>
<div class="tab m" style="left:326px;width:33px"><span class="mono">CCI</span></div>
<div class="tab m" style="left:360px;width:33.5px"><span class="mono">KDJ</span></div>
<div class="tab m" style="left:394.5px;width:38.5px"><span class="mono">LW&amp;</span></div>
<div class="tab m" style="left:434px;width:33px"><span class="mono">RSI</span></div>
<div class="tab m" style="left:468px;width:27.5px"><span class="mono">CR</span></div>
<div class="tab m" style="left:496.5px;width:33.5px"><span class="mono">PSY</span></div>
<div class="tab " style="left:531px;width:38.5px">设置</div>
</div>
<div class="bl1"></div>
<div class="sb"><i></i></div>
<div class="bb"></div><div class="bb2"></div>
</body></html>
